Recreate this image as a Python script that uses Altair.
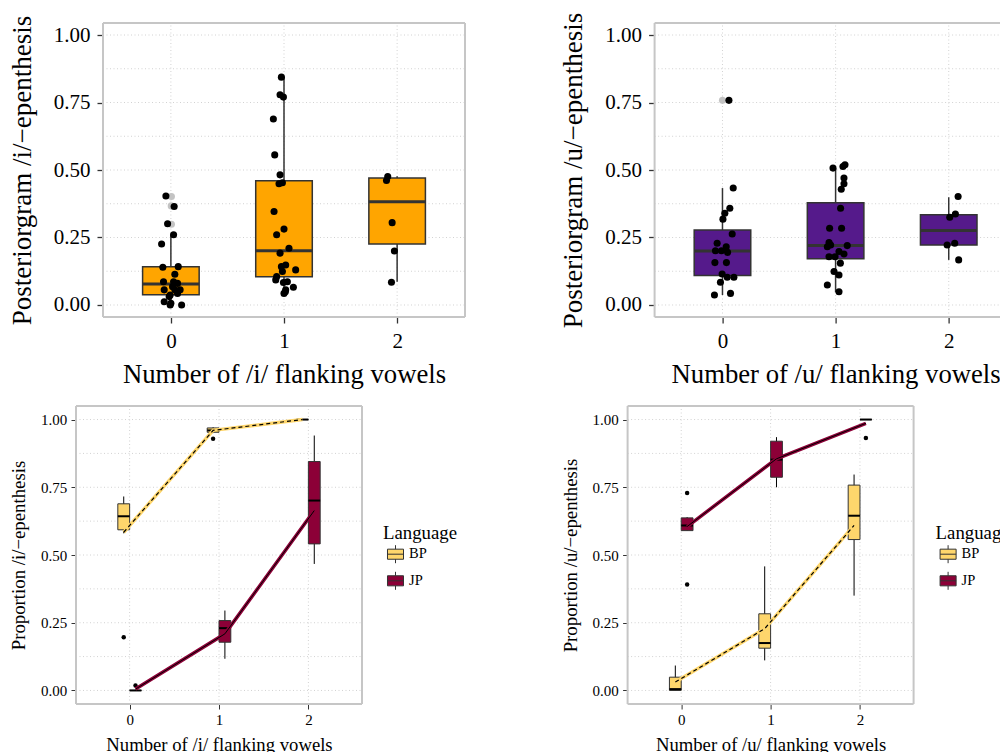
import altair as alt
import pandas as pd

FONT = "Liberation Serif"
BORDER = "#C6C6C6"
GRID = "#D2D2D2"
BOXLINE = "#333333"
ORANGE = "#FFA500"
PURPLE = "#551A8B"
BP_COL = "#FED66C"
JP_COL = "#8C0037"

cats = [0, 1, 2]
major_breaks = [0, 0.25, 0.5, 0.75, 1.0]
minor_breaks = [0.125, 0.375, 0.625, 0.875]
languages = ["BP", "JP"]

# ---------------- top-left: /i/ posteriorgram ----------------
tl_lo = [0.000, 0.042, 0.086]
tl_q1 = [0.038, 0.105, 0.226]
tl_med = [0.078, 0.201, 0.382]
tl_q3 = [0.142, 0.460, 0.470]
tl_hi = [0.260, 0.847, 0.477]
tl_pts_x = [-0.044, 0.029, -0.029, 0.024, -0.082, -0.071, 0.065, 0.035, -0.065, 0.024, 0.059,
            -0.059, 0.035, 0.082, -0.006, -0.059, 0.000, 0.095, 0.059, 0.015, -0.015, -0.006,
            0.977, 0.965, 0.995, 0.906, 0.918, 0.965, 0.956, 0.986, 0.912, 1.000, 0.935, 1.044,
            0.965, 1.015, 0.977, 1.103, 0.986, 0.935, 0.927, 1.030, 0.995, 1.083, 1.015, 1.000, 1.012,
            1.917, 1.906, 1.956, 1.976, 1.950]
tl_pts_y = [0.404, 0.365, 0.301, 0.260, 0.226, 0.140, 0.142, 0.114, 0.086, 0.086, 0.080,
            0.056, 0.056, 0.056, 0.037, 0.012, 0.006, 0.000, 0.043, 0.068, 0.031, 0.000,
            0.844, 0.779, 0.770, 0.689, 0.556, 0.482, 0.449, 0.453, 0.346, 0.281, 0.260, 0.210,
            0.192, 0.148, 0.142, 0.130, 0.124, 0.105, 0.093, 0.086, 0.083, 0.066, 0.056, 0.043, 0.049,
            0.476, 0.461, 0.305, 0.200, 0.084]
tl_out_x = [0.005, 0.003, 0.005]
tl_out_y = [0.402, 0.367, 0.299]

# ---------------- top-right: /u/ posteriorgram ----------------
tr_lo = [0.037, 0.047, 0.167]
tr_q1 = [0.109, 0.171, 0.222]
tr_med = [0.200, 0.220, 0.276]
tr_q3 = [0.278, 0.379, 0.334]
tr_hi = [0.433, 0.507, 0.399]
tr_pts_x = [0.057, 0.095, 0.065, 0.021, 0.004, 0.086, -0.047, -0.062, -0.009, 0.033, 0.045,
            -0.067, 0.035, -0.003, 0.042, 0.101, -0.018, -0.071, 0.071,
            0.977, 1.065, 1.083, 1.074, 1.074, 1.050, 1.044, 0.947, 1.053, 0.942, 0.956, 0.927,
            1.103, 1.030, 1.074, 0.942, 0.995, 1.042, 0.986, 1.030, 0.927, 1.030,
            2.083, 2.059, 2.009, 1.986, 2.053, 2.088]
tr_pts_y = [0.758, 0.433, 0.358, 0.340, 0.318, 0.263, 0.229, 0.201, 0.201, 0.216, 0.195,
            0.157, 0.157, 0.115, 0.103, 0.103, 0.084, 0.037, 0.043,
            0.507, 0.513, 0.519, 0.470, 0.449, 0.429, 0.358, 0.284, 0.284, 0.231, 0.222, 0.216,
            0.220, 0.198, 0.189, 0.179, 0.179, 0.155, 0.124, 0.111, 0.074, 0.049,
            0.402, 0.337, 0.325, 0.222, 0.229, 0.167]
tr_out_x = [0.000]
tr_out_y = [0.758]

# ---------------- bottom-left: proportion /i/ ----------------
bl_bp_lo = [0.580, 0.950, 1.000]
bl_bp_q1 = [0.593, 0.953, 1.000]
bl_bp_med = [0.643, 0.960, 1.000]
bl_bp_q3 = [0.689, 0.969, 1.000]
bl_bp_hi = [0.716, 0.972, 1.000]
bl_jp_lo = [0.000, 0.117, 0.467]
bl_jp_q1 = [0.000, 0.178, 0.541]
bl_jp_med = [0.000, 0.230, 0.701]
bl_jp_q3 = [0.000, 0.258, 0.845]
bl_jp_hi = [0.000, 0.295, 0.941]
bl_bp_mean = [0.584, 0.960, 1.000]
bl_jp_mean = [0.005, 0.209, 0.664]
bl_out_cat = [0, 1, 0]
bl_out_lang = ["BP", "BP", "JP"]
bl_out_val = [0.196, 0.929, 0.018]

# ---------------- bottom-right: proportion /u/ ----------------
br_bp_lo = [0.000, 0.111, 0.350]
br_bp_q1 = [0.000, 0.156, 0.557]
br_bp_med = [0.005, 0.175, 0.645]
br_bp_q3 = [0.049, 0.283, 0.758]
br_bp_hi = [0.092, 0.458, 0.797]
br_jp_lo = [0.590, 0.750, 1.000]
br_jp_q1 = [0.590, 0.787, 1.000]
br_jp_med = [0.609, 0.852, 1.000]
br_jp_q3 = [0.637, 0.920, 1.000]
br_jp_hi = [0.640, 0.935, 1.000]
br_bp_mean = [0.031, 0.228, 0.609]
br_jp_mean = [0.605, 0.855, 0.986]
br_out_cat = [0, 0, 2]
br_out_lang = ["JP", "JP", "JP"]
br_out_val = [0.729, 0.391, 0.932]

LEGEND_PATH = ("M-0.89,-0.56H0.89V0.56H-0.89Z M-0.89,0H0.89 "
               "M0,-0.56V-1 M0,0.56V1")

X_LO, X_HI = -0.6, 2.6


def frame_layers(xs, ys, xa, ya, y_lo, y_hi):
    """Dotted major/minor grid and the grey panel border, drawn through the scales."""
    hvals = pd.DataFrame({"v": major_breaks + minor_breaks})
    hgrid = alt.Chart(hvals).transform_calculate(
        a=f"{X_LO}", b=f"{X_HI}").mark_rule(
        color=GRID, strokeDash=[1, 2.5], strokeWidth=1).encode(
        x=alt.X("a:Q", scale=xs, axis=xa), x2="b:Q",
        y=alt.Y("v:Q", scale=ys, axis=ya))
    vvals = pd.DataFrame({"cat": cats})
    vgrid = alt.Chart(vvals).transform_calculate(
        a=f"{y_lo}", b=f"{y_hi}").mark_rule(
        color=GRID, strokeDash=[1, 2.5], strokeWidth=1).encode(
        x=alt.X("cat:Q", scale=xs, axis=xa),
        y=alt.Y("a:Q", scale=ys, axis=ya), y2="b:Q")
    edges = pd.DataFrame({
        "x": [X_LO, X_HI, X_LO, X_LO],
        "x2": [X_LO, X_HI, X_HI, X_HI],
        "y": [y_lo, y_lo, y_hi, y_lo],
        "y2": [y_hi, y_hi, y_hi, y_lo],
    })
    border = alt.Chart(edges).mark_rule(color=BORDER, strokeWidth=2).encode(
        x=alt.X("x:Q", scale=xs, axis=xa), x2="x2:Q",
        y=alt.Y("y:Q", scale=ys, axis=ya), y2="y2:Q")
    return hgrid, vgrid, border


EXTRA = 27  # room left of the top panels (they sit further right than the bottom ones)
TOP_STEP = 362 / 3.2


def top_panel(lo, q1, med, q3, hi, px, py, ox, oy, fill, ytitle, xtitle,
              ytitle_x):
    H = 294
    W = 362 + EXTRA
    y_lo, y_hi = -0.0445, 1.0445
    xs = alt.Scale(domain=[X_LO - EXTRA / TOP_STEP, X_HI], nice=False, zero=False)
    ys = alt.Scale(domain=[y_lo, y_hi], nice=False, zero=False)
    xa = alt.Axis(values=cats, format="d", labelFont=FONT, labelFontSize=21,
                  labelColor="black", labelPadding=7.6, labelFlush=False,
                  tickSize=6, tickColor=BOXLINE, tickWidth=1.3, domain=False,
                  grid=False, title=xtitle, titleFont=FONT,
                  titleFontSize=26.7, titleFontWeight="normal",
                  titleColor="black", titleX=EXTRA + 181, titleY=65.5,
                  titleAlign="center", titleBaseline="alphabetic")
    ya = alt.Axis(values=major_breaks, format=".2f", labelFont=FONT,
                  labelFontSize=21, labelColor="black", labelPadding=7,
                  labelFlush=False, tickSize=6, tickColor=BOXLINE,
                  tickWidth=1.3, domain=False, grid=False, offset=-EXTRA,
                  title=ytitle, titleFont=FONT, titleFontSize=27,
                  titleFontWeight="normal", titleColor="black",
                  titleAngle=270, titleX=ytitle_x, titleY=H / 2,
                  titleAlign="center", titleBaseline="alphabetic")
    box = pd.DataFrame({"cat": cats, "lo": lo, "q1": q1, "med": med,
                        "q3": q3, "hi": hi})
    pts = pd.DataFrame({"x": px, "v": py})
    outl = pd.DataFrame({"x": ox, "v": oy})

    hgrid, vgrid, border = frame_layers(xs, ys, xa, ya, y_lo, y_hi)
    whisk = alt.Chart(box).mark_rule(color=BOXLINE, strokeWidth=1.5).encode(
        x=alt.X("cat:Q", scale=xs, axis=xa),
        y=alt.Y("lo:Q", scale=ys, axis=ya), y2="hi:Q")
    bbase = alt.Chart(box).transform_calculate(
        xl="datum.cat - 0.25", xr="datum.cat + 0.25")
    rect = bbase.mark_rect(fill=fill, stroke=BOXLINE, strokeWidth=1.5).encode(
        x=alt.X("xl:Q", scale=xs, axis=xa), x2="xr:Q",
        y=alt.Y("q1:Q", scale=ys, axis=ya), y2="q3:Q")
    medl = bbase.mark_rule(color=BOXLINE, strokeWidth=3).encode(
        x=alt.X("xl:Q", scale=xs, axis=xa), x2="xr:Q",
        y=alt.Y("med:Q", scale=ys, axis=ya))
    outs = alt.Chart(outl).mark_circle(size=50, color="#C3C3C3",
                                       opacity=1).encode(
        x=alt.X("x:Q", scale=xs, axis=xa), y=alt.Y("v:Q", scale=ys, axis=ya))
    dots = alt.Chart(pts).mark_circle(size=50, color="black",
                                      opacity=1).encode(
        x=alt.X("x:Q", scale=xs, axis=xa), y=alt.Y("v:Q", scale=ys, axis=ya))
    return alt.layer(hgrid, vgrid, whisk, rect, medl, outs, dots,
                     border).properties(width=W, height=H)


def bottom_panel(stats, bp_mean, jp_mean, out_cat, out_lang, out_val,
                 ytitle, xtitle, ytitle_x, leg_x, leg_y):
    W, H = 286, 298
    D = 0.066
    y_lo, y_hi = -0.05, 1.05
    xs = alt.Scale(domain=[X_LO, X_HI], nice=False, zero=False)
    ys = alt.Scale(domain=[y_lo, y_hi], nice=False, zero=False)
    xa = alt.Axis(values=cats, format="d", labelFont=FONT, labelFontSize=15,
                  labelColor="black", labelPadding=3.7, labelFlush=False,
                  tickSize=5, tickColor=BOXLINE, tickWidth=1, domain=False,
                  grid=False, title=xtitle, titleFont=FONT,
                  titleFontSize=18.7, titleFontWeight="normal",
                  titleColor="black", titleX=W / 2, titleY=46,
                  titleAlign="center", titleBaseline="alphabetic")
    ya = alt.Axis(values=major_breaks, format=".2f", labelFont=FONT,
                  labelFontSize=15, labelColor="black", labelPadding=4.3,
                  labelFlush=False, tickSize=5, tickColor=BOXLINE,
                  tickWidth=1, domain=False, grid=False, title=ytitle,
                  titleFont=FONT, titleFontSize=18.8, titleFontWeight="normal",
                  titleColor="black", titleAngle=270, titleX=ytitle_x,
                  titleY=H / 2, titleAlign="center",
                  titleBaseline="alphabetic")
    rows = []
    for lang in languages:
        lo, q1, med, q3, hi = stats[lang]
        for i, c in enumerate(cats):
            rows.append({"cat": c, "lang": lang, "lo": lo[i], "q1": q1[i],
                         "med": med[i], "q3": q3[i], "hi": hi[i]})
    box = pd.DataFrame(rows)
    means = pd.DataFrame({"cat": cats + cats,
                          "lang": ["BP"] * len(cats) + ["JP"] * len(cats),
                          "m": bp_mean + jp_mean})
    outl = pd.DataFrame({"cat": out_cat, "lang": out_lang, "v": out_val})
    dodge = f"datum.cat + (datum.lang == 'BP' ? {-D} : {D})"

    hgrid, vgrid, border = frame_layers(xs, ys, xa, ya, y_lo, y_hi)
    bbase = alt.Chart(box).transform_calculate(xc=dodge).transform_calculate(
        xl=f"datum.xc - {D}", xr=f"datum.xc + {D}")
    whisk = bbase.mark_rule(color="black", strokeWidth=1).encode(
        x=alt.X("xc:Q", scale=xs, axis=xa),
        y=alt.Y("lo:Q", scale=ys, axis=ya), y2="hi:Q")
    legend = alt.Legend(title="Language", orient="none", legendX=leg_x,
                        legendY=leg_y, padding=0,
                        symbolType=LEGEND_PATH, symbolSize=324,
                        symbolStrokeColor=BOXLINE, symbolStrokeWidth=1,
                        symbolOffset=3, labelOffset=4, labelFont=FONT,
                        labelFontSize=14.5, labelColor="black",
                        titleFont=FONT, titleFontSize=18.8,
                        titleFontWeight="normal", titleColor="black",
                        titlePadding=2.3, rowPadding=3.6)
    rect = bbase.mark_rect(stroke=BOXLINE, strokeWidth=1).encode(
        x=alt.X("xl:Q", scale=xs, axis=xa), x2="xr:Q",
        y=alt.Y("q1:Q", scale=ys, axis=ya), y2="q3:Q",
        fill=alt.Fill("lang:N", scale=alt.Scale(domain=languages,
                                                range=[BP_COL, JP_COL]),
                      legend=legend))
    medl = bbase.mark_rule(color="black", strokeWidth=2).encode(
        x=alt.X("xl:Q", scale=xs, axis=xa), x2="xr:Q",
        y=alt.Y("med:Q", scale=ys, axis=ya))
    outs = alt.Chart(outl).transform_calculate(xc=dodge).mark_circle(
        size=20, color="black", opacity=1).encode(
        x=alt.X("xc:Q", scale=xs, axis=xa), y=alt.Y("v:Q", scale=ys, axis=ya))
    mbase = alt.Chart(means).transform_calculate(xc=dodge)
    layers = [hgrid, vgrid, whisk, rect, medl, outs]
    for lang, col, dash in [("BP", BP_COL, [4, 3]), ("JP", JP_COL, None)]:
        sub = mbase.transform_filter(f"datum.lang == '{lang}'")
        layers.append(sub.mark_line(color=col, strokeWidth=3.5).encode(
            x=alt.X("xc:Q", scale=xs, axis=xa),
            y=alt.Y("m:Q", scale=ys, axis=ya)))
        if dash:
            ov = sub.mark_line(color="black", strokeWidth=1.2, strokeDash=dash)
        else:
            ov = sub.mark_line(color="black", strokeWidth=1.0)
        layers.append(ov.encode(x=alt.X("xc:Q", scale=xs, axis=xa),
                                y=alt.Y("m:Q", scale=ys, axis=ya)))
    layers.append(border)
    return alt.layer(*layers).properties(width=W, height=H)


tl = top_panel(tl_lo, tl_q1, tl_med, tl_q3, tl_hi, tl_pts_x, tl_pts_y,
               tl_out_x, tl_out_y, ORANGE,
               "Posteriorgram /i/\u2212epenthesis",
               "Number of /i/ flanking vowels", -72.5)
tr = top_panel(tr_lo, tr_q1, tr_med, tr_q3, tr_hi, tr_pts_x, tr_pts_y,
               tr_out_x, tr_out_y, PURPLE,
               "Posteriorgram /u/\u2212epenthesis",
               "Number of /u/ flanking vowels", -73.4)
bl = bottom_panel({"BP": [bl_bp_lo, bl_bp_q1, bl_bp_med, bl_bp_q3, bl_bp_hi],
                   "JP": [bl_jp_lo, bl_jp_q1, bl_jp_med, bl_jp_q3, bl_jp_hi]},
                  bl_bp_mean, bl_jp_mean, bl_out_cat, bl_out_lang, bl_out_val,
                  "Proportion /i/\u2212epenthesis",
                  "Number of /i/ flanking vowels", -52.0, 307, 117.6)
br = bottom_panel({"BP": [br_bp_lo, br_bp_q1, br_bp_med, br_bp_q3, br_bp_hi],
                   "JP": [br_jp_lo, br_jp_q1, br_jp_med, br_jp_q3, br_jp_hi]},
                  br_bp_mean, br_jp_mean, br_out_cat, br_out_lang, br_out_val,
                  "Proportion /u/\u2212epenthesis",
                  "Number of /u/ flanking vowels", -51.6, 308, 117.6)

chart = alt.concat(
    tl, tr, bl, br, columns=2,
    spacing={"row": 15, "column": 91.6},
    bounds="full",
    align="each",
).resolve_scale(fill="independent").resolve_legend(
    fill="independent").properties(
    autosize=alt.AutoSizeParams(type="none"),
    padding={"left": 68, "top": 15, "right": 924, "bottom": 745},
    background="white",
).configure(font=FONT).configure_axis(
    labelFont=FONT, titleFont=FONT).configure_legend(
    labelFont=FONT, titleFont=FONT).configure_view(
    stroke="transparent")

chart.save("out.html", embed_options={"renderer": "svg", "actions": False})
